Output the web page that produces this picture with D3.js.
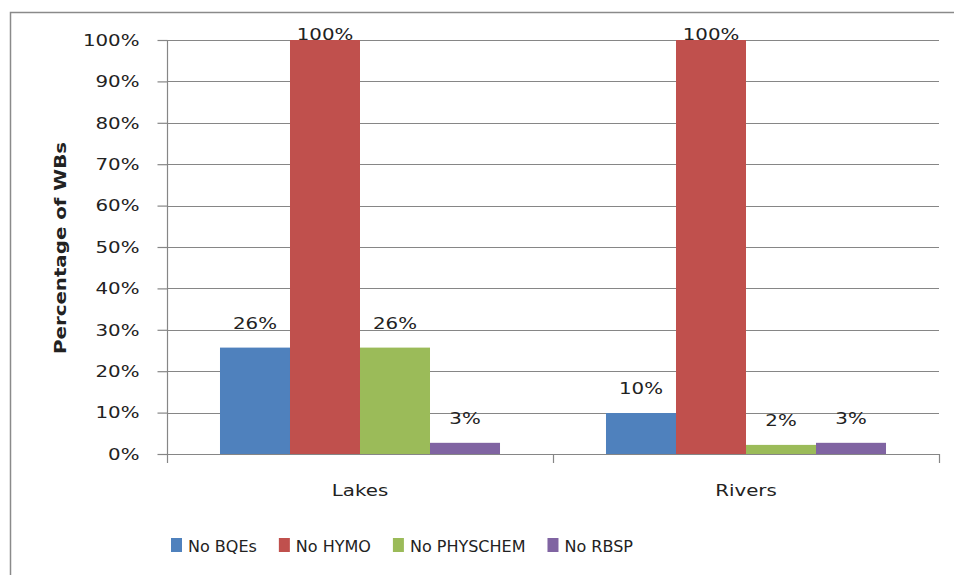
<!DOCTYPE html>
<html><head><meta charset="utf-8">
<script src="https://cdn.jsdelivr.net/npm/d3@7"></script>
<style>body{margin:0;background:#fff}svg{display:block}text{font-family:"DejaVu Sans",Verdana,sans-serif;fill:#222}</style>
</head><body><svg id="c" width="954" height="575"></svg>
<script>
const categories = ["Lakes", "Rivers"];
const seriesNames = ["No BQEs", "No HYMO", "No PHYSCHEM", "No RBSP"];
const noBQEs = [0.257, 0.099];
const noHYMO = [1.0, 1.0];
const noPHYSCHEM = [0.257, 0.022];
const noRBSP = [0.027, 0.027];
const yTicks = [0, 0.1, 0.2, 0.3, 0.4, 0.5, 0.6, 0.7, 0.8, 0.9, 1.0];
const colors = ["#4F81BD", "#C0504D", "#9BBB59", "#8064A2"];
const seriesValues = [noBQEs, noHYMO, noPHYSCHEM, noRBSP];

const svg = d3.select("#c");
const m = {left: 167, right: 939, top: 40, bottom: 454};
const gridColor = "#868686";
const SX = 1.2;
const FS = "16.5px";

// stretch a text element horizontally about its anchor point
function stretch(sel) {
  sel.each(function() {
    const t = d3.select(this);
    const x = +t.attr("x") || 0;
    t.attr("x", 0).attr("transform", `translate(${x},0) scale(${SX},1)`);
  });
}

// frame (left & top visible)
svg.append("rect").attr("x", 10.5).attr("y", 12.5).attr("width", 960).attr("height", 600)
  .attr("fill", "none").attr("stroke", "#8a8a8a").attr("stroke-width", 1.5);

const x0 = d3.scaleBand().domain(categories).range([m.left, m.right]).paddingInner(0).paddingOuter(0);
const x1 = d3.scaleBand().domain(seriesNames).range([0, x0.bandwidth()]).paddingInner(0).paddingOuter(0.757);
const y = d3.scaleLinear().domain([0, 1]).range([m.bottom, m.top]);

// gridlines
svg.append("g").selectAll("line").data(yTicks.filter(d => d > 0)).join("line")
  .attr("x1", m.left).attr("x2", m.right)
  .attr("y1", d => Math.round(y(d)) + 0.5).attr("y2", d => Math.round(y(d)) + 0.5)
  .attr("stroke", gridColor).attr("stroke-width", 1.2);

// y axis
const yAxis = d3.axisLeft(y).tickValues(yTicks).tickFormat(d3.format(".0%")).tickSize(10).tickPadding(18);
const gy = svg.append("g").attr("transform", `translate(${m.left + 0.5},0)`).call(yAxis);
gy.select(".domain").attr("stroke", gridColor).attr("stroke-width", 1.2).attr("d", `M0,${m.top}V${m.bottom}`);
gy.selectAll(".tick line").attr("stroke", gridColor).attr("stroke-width", 1.2);
gy.selectAll(".tick text").style("font-family", '"DejaVu Sans",Verdana,sans-serif').style("font-size", FS).attr("fill", "#222").call(stretch);

// bars
const groups = svg.append("g").selectAll("g").data(categories).join("g")
  .attr("transform", d => `translate(${x0(d)},0)`);
groups.selectAll("rect").data((c, ci) => seriesNames.map((s, si) => ({s, si, v: seriesValues[si][ci]}))).join("rect")
  .attr("x", d => x1(d.s)).attr("width", x1.bandwidth())
  .attr("y", d => y(d.v)).attr("height", d => y(0) - y(d.v))
  .attr("fill", d => colors[d.si]);

// labels
groups.selectAll("text").data((c, ci) => seriesNames.map((s, si) => ({s, si, v: seriesValues[si][ci]}))).join("text")
  .attr("x", d => x1(d.s) + x1.bandwidth() / 2)
  .attr("y", d => Math.max(y(d.v) - 19, m.top))
  .attr("text-anchor", "middle").style("font-size", FS)
  .text(d => d3.format(".0%")(d.v))
  .call(stretch);

// x axis
const xAxis = d3.axisBottom(x0).tickSize(0).tickPadding(30);
const gx = svg.append("g").attr("transform", `translate(0,${m.bottom + 0.5})`).call(xAxis);
gx.select(".domain").attr("stroke", gridColor).attr("stroke-width", 1.2).attr("d", `M${m.left},0H${m.right}`);
gx.selectAll(".tick text").style("font-family", '"DejaVu Sans",Verdana,sans-serif').style("font-size", FS).attr("fill", "#222").call(stretch);
// category separator ticks
svg.append("g").selectAll("line").data(categories.map(c => x0(c)).concat([m.right])).join("line")
  .attr("x1", d => Math.round(d) + 0.5).attr("x2", d => Math.round(d) + 0.5)
  .attr("y1", m.bottom).attr("y2", m.bottom + 9).attr("stroke", gridColor).attr("stroke-width", 1.2);

// y title
svg.append("text").attr("transform", `translate(66,${(m.top + m.bottom) / 2 + 1}) rotate(-90) scale(${SX},1)`)
  .attr("text-anchor", "middle").style("font-size", FS).style("font-weight", "bold")
  .text("Percentage of WBs");

// legend
const lg = svg.append("g");
let lx = 171;
seriesNames.forEach((s, i) => {
  lg.append("rect").attr("x", lx).attr("y", 538).attr("width", 11).attr("height", 14).attr("fill", colors[i]);
  const t = lg.append("text").attr("x", lx + 17).attr("y", 552).style("font-size", "16px").text(s);
  lx += 17 + t.node().getComputedTextLength() + 22;
});
</script></body></html>
